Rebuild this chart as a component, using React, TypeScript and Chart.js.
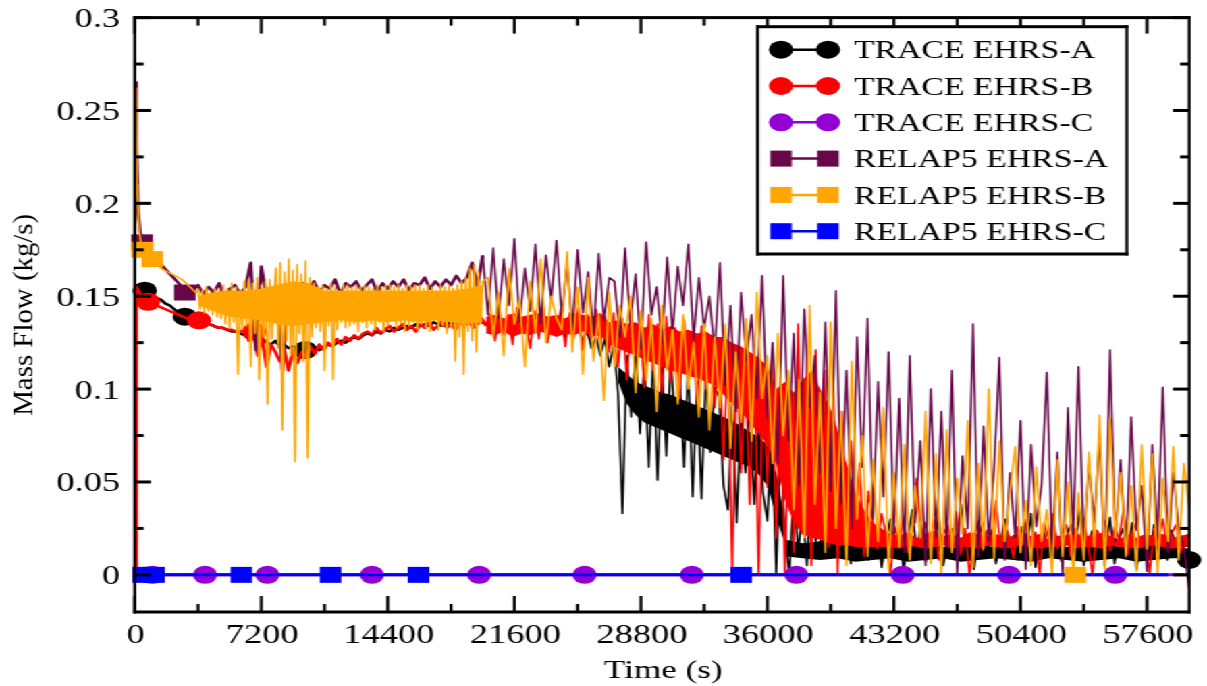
import { useEffect, useRef } from 'react';
import { Chart, registerables } from 'chart.js';

Chart.register(...registerables);

// ---------------------------------------------------------------------------
// Axis ticks
// ---------------------------------------------------------------------------
const timeTicks = [0, 7200, 14400, 21600, 28800, 36000, 43200, 50400, 57600];
const timeTickLabels = ['0', '7200', '14400', '21600', '28800', '36000', '43200', '50400', '57600'];
const timeMinorTicks = [3600, 10800, 18000, 25200, 32400, 39600, 46800, 54000];
const flowTicks = [0, 0.05, 0.1, 0.15, 0.2, 0.25, 0.3];
const flowTickLabels = ['0', '0.05', '0.1', '0.15', '0.2', '0.25', '0.3'];
const flowMinorTicks = [0.025, 0.075, 0.125, 0.175, 0.225, 0.275];

// ---------------------------------------------------------------------------
// Series (flows in g/s, times in s)
// ---------------------------------------------------------------------------
const seriesLabels = ['TRACE EHRS-A', 'TRACE EHRS-B', 'TRACE EHRS-C', 'RELAP5 EHRS-A', 'RELAP5 EHRS-B', 'RELAP5 EHRS-C'];
const seriesColors = ['#000000', '#ff0000', '#9400d3', '#670748', '#ffa500', '#0000ff'];
const seriesMarkers = ['circle', 'circle', 'circle', 'rect', 'rect', 'rect'];

// TRACE EHRS-A
const traceAHeadTime = [0, 300, 570, 800];
const traceAHeadGps = [152, 154, 153, 151];
const traceAStart = 1000;
const traceAStep = 250;
const traceAGps = [
  150, 149, 148, 146, 145, 143, 141, 140, 139,
  138, 137, 136, 136, 135, 134, 133, 133, 132, 131, 131, 130,
  129, 127, 128, 126, 127, 125, 124, 126, 123, 124, 122, 123, 121, 122, 120, 121,
  122, 121, 123, 124, 123, 125, 126, 125, 127, 128, 127, 129,
  130, 129, 131, 130, 132, 131, 133, 132, 133, 134, 133, 135, 134, 135, 134, 136, 135, 134, 136, 135, 136, 135, 137, 136, 135, 137, 136, 135,
  137, 133, 138, 132, 136, 131, 137, 133, 135, 130, 136, 132, 134, 129, 135, 131, 133, 128, 134, 130, 132, 126, 131, 122, 128, 118, 127, 112,
  124, 98, 33, 118, 85, 121, 76, 115, 58, 119, 51, 112, 64, 117, 81, 108, 58, 113, 42, 104, 41, 110, 66, 101,
  96, 48, 35, 92, 28, 88, 55, 94, 38, 85, 44, 29, 80, 0, 72, 22,
  0, 48, 12, 35, 5, 51, 18, 30, 10, 25, 16, 22,
  12, 28, 6, 22, 15, 33, 8, 19, 26, 4,
  18, 30, 10, 24, 2, 20, 35, 12, 27, 7,
  21, 14, 31, 5, 17, 25, 9, 38, 13, 22,
  3, 19, 28, 11, 24, 6, 16, 30, 14, 21,
  8, 26, 12, 33, 4, 18, 23, 10, 29, 15,
  7, 20, 27, 13, 36, 5, 17, 24, 9, 22,
  14, 31, 6, 19, 25, 11, 28, 3, 16, 21,
  10, 27, 13, 20, 8, 24, 15, 18, 12, 8,
];
// cores of the fast-oscillating stretches of TRACE EHRS-A
const traceACoreStart = 27500;
const traceACoreStep = 500;
const traceACoreUpperGps = [112, 108, 104, 102, 100, 98, 97, 95, 93, 91, 89, 87, 85, 83, 80, 77, 74, 70, 55, 30];
const traceACoreLowerGps = [104, 92, 86, 82, 80, 78, 76, 74, 72, 70, 68, 66, 64, 62, 60, 58, 54, 48, 32, 16];
const traceATailStart = 37000;
const traceATailStep = 1000;
const traceATailUpperGps = [19, 17, 18, 16, 17, 15, 17, 16, 18, 15, 17, 16, 15, 17, 16, 18, 15, 16, 17, 15, 16, 17, 15, 14];
const traceATailLowerGps = [10, 9, 8, 9, 7, 8, 9, 7, 8, 9, 7, 8, 9, 8, 7, 9, 8, 7, 8, 9, 7, 8, 9, 9];
const traceAMarkTime = [570, 2850, 9700, 39550, 60000];
const traceAMarkGps = [153, 139, 121, 16, 8];

// TRACE EHRS-B
const traceBHeadTime = [0, 70, 90, 400, 760];
const traceBHeadGps = [0, 2, 155, 150, 147];
const traceBStart = 1000;
const traceBStep = 250;
const traceBGps = [
  146, 145, 144, 143, 142, 141, 140, 139, 138,
  137, 137, 136, 135, 135, 134, 133, 133, 132, 132, 131, 131,
  132, 126, 130, 118, 128, 112, 124, 120, 115, 122, 110, 121, 114, 120, 117, 123,
  119, 124, 121, 125, 123, 127, 124, 128, 126, 129, 127, 130,
  131, 129, 133, 130, 132, 134, 131, 133, 135, 132, 134, 131, 135, 133, 136, 132, 134, 137, 133, 135, 132, 136, 134, 137, 133, 135, 138, 134,
  141, 126, 143, 129, 140, 124, 144, 130, 138, 122, 142, 127, 145, 125, 139, 131, 143, 123, 141, 128, 144, 121, 140, 126, 143, 124, 139, 120,
  141, 112, 138, 105, 142, 118, 136, 101, 140, 110, 135, 98, 139, 104, 133, 95, 137, 108, 131, 92, 134, 100, 128, 90,
  126, 62, 118, 0, 121, 55, 112, 38, 124, 0, 108, 47, 115, 20, 102, 0,
  96, 12, 135, 22, 118, 5, 121, 30, 110, 15, 104, 0,
  88, 18, 72, 25, 60, 10, 45, 28, 14, 33,
  22, 0, 26, 17, 31, 12, 24, 52, 19, 28,
  15, 30, 8, 22, 27, 16, 34, 11, 25, 0,
  20, 29, 13, 24, 18, 40, 15, 27, 21, 9,
  26, 17, 30, 12, 23, 0, 28, 19, 33, 14,
  22, 27, 10, 25, 18, 31, 16, 0, 24, 20,
  29, 13, 26, 19, 35, 11, 23, 28, 15, 21,
  0, 25, 18, 30, 14, 22, 27, 12, 19, 15,
];
// core of the fast-oscillating stretch of TRACE EHRS-B
const traceBCoreStart = 20000;
const traceBCoreStep = 500;
const traceBCoreUpperGps = [
  139, 140, 138, 141, 139, 140, 141, 139, 140, 138, 141, 140, 139, 141,
  136, 137, 135, 136, 133, 135, 132, 134, 131, 132, 130, 131, 128,
  128, 125, 123, 120, 117, 112,
  100, 104, 98,
  105, 110, 100, 92, 78, 60,
  45, 35, 28, 25,
  22, 21, 23, 20, 22, 24, 21, 22, 20, 23, 22, 21, 22, 20, 21, 23, 21, 22, 19, 21, 21, 23, 20, 22, 22, 21, 19, 22, 20, 22, 21, 22, 20, 21, 22,
];
const traceBCoreLowerGps = [
  130, 129, 131, 128, 130, 129, 131, 130, 128, 130, 129, 131, 128, 129,
  124, 122, 120, 118, 116, 114, 112, 110, 109, 107, 106, 104, 102,
  97, 92, 88, 82, 76, 70,
  60, 40, 28,
  22, 20, 19, 17, 16, 16,
  15, 15, 15, 15,
  15, 14, 16, 15, 14, 15, 16, 14, 15, 15, 14, 16, 15, 14, 15, 16, 15, 14, 15, 15, 16, 14, 15, 15, 14, 16, 15, 15, 14, 15, 16, 15, 14, 15, 15,
];
const traceBMarkTime = [760, 3660, 6800];
const traceBMarkGps = [147, 137, 131];

// TRACE EHRS-C (no flow)
const traceCTime = [0, 60000];
const traceCGps = [0, 0];
const traceCMarkTime = [1000, 4000, 7550, 13500, 19600, 25600, 31700, 37650, 43700, 49750, 55800];
const traceCMarkGps = [0, 0, 0, 0, 0, 0, 0, 0, 0, 0, 0];

// RELAP5 EHRS-A
const relapAHeadTime = [0, 50, 90, 130, 200, 300, 420, 800, 1000];
const relapAHeadGps = [180, 265, 230, 218, 195, 185, 179, 175, 172];
const relapAStart = 1200;
const relapAStep = 300;
const relapAGps = [
  170, 167, 164, 161, 158, 155, 154,
  153, 156, 151, 155, 152, 157, 150, 154, 156, 151, 155,
  168, 121, 166, 150, 154, 149, 110, 152, 155, 150,
  157, 153, 158, 152, 156, 154, 159, 151, 157, 155, 158, 153, 156, 159, 152, 157, 154, 158, 155, 159,
  153, 157, 156, 160, 154, 158, 155, 159, 156, 161, 157, 160,
  168, 155, 172,
  140, 176, 138, 170, 145, 181, 136, 165, 142, 178, 135, 172, 148, 180, 139, 168, 132, 175, 141, 163, 130, 173, 137, 160,
  158, 128, 176, 135, 162, 122, 179, 140, 155, 125, 171, 130, 166, 145, 178, 127, 160, 133, 150, 120,
  168, 102, 145, 88, 152, 115, 140, 95, 161, 84,
  125, 60, 161, 72, 130, 48, 143, 90, 118, 55, 136,
  45, 153, 38, 110, 25, 128, 58, 138, 30, 104, 42, 120, 22,
  95, 12, 118, 28, 72, 5, 100, 20, 88, 15, 110, 0, 64, 25, 135, 10, 80, 18, 58,
  117, 8, 55, 20, 83, 3, 70, 26, 48, 109, 12, 66, 0, 90, 22, 112, 15, 60, 28, 75, 5,
  121, 18, 62, 9, 85, 24, 48, 2, 70, 20, 101, 12, 55, 25, 15, -8,
];
const relapAMarkTime = [420, 2850];
const relapAMarkGps = [179, 152];

// RELAP5 EHRS-B
const relapBHeadTime = [0, 80, 110, 150, 220, 300, 420, 700, 1000, 1500, 2700, 3480];
const relapBHeadGps = [175, 262, 210, 205, 190, 182, 175, 172, 170, 165, 159, 152];
const relapBBandStart = 3600;
const relapBBandStep = 120;
const relapBBandGps = [
  154, 143, 153, 141, 155, 142, 152, 140, 154, 139, 153,
  138, 156, 135, 154, 133, 157, 136, 155, 108, 152, 132, 158,
  134, 159, 112, 157, 130, 160, 105, 156, 128, 158, 92, 159, 127, 150,
  165, 122, 168, 78, 163, 126, 170, 118, 164, 61, 167, 130, 162, 115, 169, 63, 160, 128,
  157, 133, 155, 131, 156, 110, 154, 134, 157, 105, 155, 132, 153, 136, 156, 133,
  156, 134, 155, 135, 156, 131, 155, 136, 156, 133, 155, 135, 154, 132, 156, 136, 155, 131, 156, 134, 156, 137, 155, 133, 156, 135, 154, 131, 156, 134,
  155, 136, 156, 132, 156, 135, 154, 133, 156, 131, 155, 137, 153, 132, 156, 134, 155, 130, 156, 133, 154,
  115, 156, 128, 158, 108, 160, 131, 165, 126, 167, 120, 163, 135, 158,
];
// core of the fast-oscillating stretch of RELAP5 EHRS-B
const relapBCoreStart = 3600;
const relapBCoreStep = 900;
const relapBCoreUpperGps = [150, 152, 153, 153, 154, 156, 158, 157, 153, 153, 153, 153, 153, 153, 153, 153, 153, 154, 156];
const relapBCoreLowerGps = [145, 142, 139, 138, 137, 135, 134, 135, 136, 137, 136, 137, 136, 137, 136, 137, 136, 135, 136];
const relapBLateStart = 20100;
const relapBLateStep = 300;
const relapBLateGps = [
  160, 128, 152, 118, 165, 135, 148, 112, 158, 130, 170, 125, 150, 138,
  132, 174, 120, 155, 108, 160, 115, 140, 94, 152, 112, 145,
  128, 150, 98, 142, 105, 138, 88, 145, 110, 132, 92, 140, 100, 125, 85, 135,
  78, 128, 90, 135, 68, 120, 82, 138, 72, 152, 95, 118, 60, 130, 75, 110,
  35, 105, 20, 145, 38, 98, 12, 136, 25, 88, 5, 115, 30,
  75, 10, 62, 18, 90, 3, 55, 15, 70, 8, 48, 20, 88, 6, 65, 0, 78, 12, 52, 22, 83, 4, 60, 14, 100, 9, 72, 18, 45,
  69, 12, 40, 5, 58, 18, 35, 0, 62, 10, 50, 0, 44, 8, 66, 15, 86, 3, 84, 20, 55,
  10, 48, 2, 70, 14, 65, 0, 52, 18, 69, 8, 60, 35,
];
const relapBMarkTime = [420, 1000, 53520];
const relapBMarkGps = [175, 170, 0];

// RELAP5 EHRS-C (no flow)
const relapCTime = [0, 58800];
const relapCGps = [0, 0];
const relapCMarkTime = [480, 1100, 6065, 11140, 16150, 34510];
const relapCMarkGps = [0, 0, 0, 0, 0, 0];

// ---------------------------------------------------------------------------
// Layout (canvas px; the canvas is widened horizontally by STRETCH)
// ---------------------------------------------------------------------------
const CANVAS_W = 894;
const CANVAS_H = 686;
const STRETCH = 1207 / CANVAS_W;
const PLOT = { left: 99.8, right: 880.8, top: 17.6, bottom: 612 };
const LEGEND = { left: 561.1, top: 26.7, right: 834.6, bottom: 254, row0: 49.7, rowGap: 36.3, m1: 578.5, m2: 613.3, textX: 632.6 };
const SERIF = '"Liberation Serif", "Times New Roman", serif';

type Pt = { x: number; y: number };
const listed = (times: number[], gps: number[]): Pt[] => times.map((t, i) => ({ x: t, y: gps[i] / 1000 }));
const sampled = (start: number, step: number, gps: number[]): Pt[] =>
  gps.map((g, i) => ({ x: start + i * step, y: g / 1000 }));

function lineSet(idx: number, data: Pt[], width: number) {
  return {
    label: seriesLabels[idx],
    data,
    borderColor: seriesColors[idx],
    backgroundColor: seriesColors[idx],
    borderWidth: width,
    borderJoinStyle: 'round' as const,
    pointRadius: 0,
    fill: false,
    tension: 0,
  };
}

// two datasets: the upper edge, then the lower edge filled up to it
function coreSets(idx: number, start: number, step: number, upper: number[], lower: number[]) {
  return [
    {
      label: seriesLabels[idx] + ' upper',
      data: sampled(start, step, upper),
      borderWidth: 0,
      borderColor: 'rgba(0,0,0,0)',
      pointRadius: 0,
      fill: false,
      tension: 0,
    },
    {
      label: seriesLabels[idx] + ' lower',
      data: sampled(start, step, lower),
      borderWidth: 0,
      borderColor: 'rgba(0,0,0,0)',
      backgroundColor: seriesColors[idx],
      pointRadius: 0,
      fill: '-1',
      tension: 0,
    },
  ];
}

function markerSet(idx: number, data: Pt[]) {
  const circle = seriesMarkers[idx] === 'circle';
  return {
    label: seriesLabels[idx] + ' markers',
    data,
    showLine: false,
    pointStyle: circle ? 'circle' : 'rect',
    pointRadius: circle ? 9 : 11.3,
    pointBackgroundColor: seriesColors[idx],
    pointBorderColor: seriesColors[idx],
    pointBorderWidth: 0,
    backgroundColor: seriesColors[idx],
    borderColor: seriesColors[idx],
    clip: false as const,
  };
}

const decorPlugin = {
  id: 'decor',
  afterDatasetsDraw(chart: any) {
    const ctx: CanvasRenderingContext2D = chart.ctx;
    const a = chart.chartArea;
    const xs = chart.scales.x;
    const ys = chart.scales.y;
    ctx.save();
    ctx.fillStyle = '#000';
    const hTick = (v: number, len: number) => {
      const py = ys.getPixelForValue(v);
      ctx.fillRect(a.left, py - 1.5, len, 3);
      ctx.fillRect(a.right - len, py - 1.5, len, 3);
    };
    flowTicks.forEach((v) => hTick(v, 12));
    flowMinorTicks.forEach((v) => hTick(v, 6.7));
    const vTick = (t: number, len: number) => {
      const px = xs.getPixelForValue(t);
      ctx.fillRect(px - 1.1, a.bottom - len, 2.2, len);
      ctx.fillRect(px - 1.1, a.top, 2.2, len);
    };
    timeTicks.forEach((t) => vTick(t, 16));
    timeMinorTicks.forEach((t) => vTick(t, 8));
    // frame
    const w = a.right - a.left;
    const h = a.bottom - a.top;
    ctx.fillRect(a.left - 1.1, a.top - 1.5, w + 2.2, 3);
    ctx.fillRect(a.left - 1.1, a.bottom - 1.5, w + 2.2, 3);
    ctx.fillRect(a.left - 1.1, a.top - 1.5, 2.2, h + 3);
    ctx.fillRect(a.right - 1.1, a.top - 1.5, 2.2, h + 3);
    ctx.restore();
  },
  afterDraw(chart: any) {
    const ctx: CanvasRenderingContext2D = chart.ctx;
    const a = chart.chartArea;
    const xs = chart.scales.x;
    const ys = chart.scales.y;
    ctx.save();
    ctx.fillStyle = '#000';
    ctx.textBaseline = 'alphabetic';

    // tick labels
    ctx.font = `27px ${SERIF}`;
    ctx.textAlign = 'right';
    flowTicks.forEach((v, i) => ctx.fillText(flowTickLabels[i], 88.9, ys.getPixelForValue(v) + 9.5));
    ctx.textAlign = 'center';
    timeTicks.forEach((t, i) => ctx.fillText(timeTickLabels[i], xs.getPixelForValue(t) + 0.7, 643));

    // x title
    ctx.font = `26px ${SERIF}`;
    ctx.fillText('Time (s)', (a.left + a.right) / 2 + 1, 678.3);

    // y title (rotated, narrow)
    ctx.save();
    ctx.translate(18.5, (a.top + a.bottom) / 2);
    ctx.rotate(-Math.PI / 2);
    ctx.font = `29px ${SERIF}`;
    const yTitle = 'Mass Flow (kg/s)';
    const tw = ctx.measureText(yTitle).width;
    ctx.scale(202 / tw, 0.69);
    ctx.textAlign = 'center';
    ctx.fillText(yTitle, 0, 7.5);
    ctx.restore();

    // legend
    const L = LEGEND;
    ctx.fillStyle = '#fff';
    ctx.fillRect(L.left, L.top, L.right - L.left, L.bottom - L.top);
    ctx.fillStyle = '#000';
    ctx.fillRect(L.left - 1.1, L.top - 1.5, L.right - L.left + 2.2, 3);
    ctx.fillRect(L.left - 1.1, L.bottom - 1.5, L.right - L.left + 2.2, 3);
    ctx.fillRect(L.left - 1.1, L.top - 1.5, 2.2, L.bottom - L.top + 3);
    ctx.fillRect(L.right - 1.1, L.top - 1.5, 2.2, L.bottom - L.top + 3);
    ctx.font = `25px ${SERIF}`;
    ctx.textAlign = 'left';
    seriesLabels.forEach((label, i) => {
      const y = L.row0 + i * L.rowGap;
      const c = seriesColors[i];
      ctx.strokeStyle = c;
      ctx.lineWidth = 2.5;
      ctx.beginPath();
      ctx.moveTo(L.m1, y);
      ctx.lineTo(L.m2, y);
      ctx.stroke();
      ctx.fillStyle = c;
      [L.m1, L.m2].forEach((mx) => {
        if (seriesMarkers[i] === 'circle') {
          ctx.beginPath();
          ctx.arc(mx, y, 9, 0, Math.PI * 2);
          ctx.fill();
        } else {
          ctx.fillRect(mx - 8, y - 8, 16, 16);
        }
      });
      ctx.fillStyle = '#000';
      ctx.fillText(label, L.textX, y + 8.6);
    });
    ctx.restore();
  },
};

export default function App() {
  const canvasRef = useRef<HTMLCanvasElement>(null);

  useEffect(() => {
    const canvas = canvasRef.current;
    if (!canvas) return;

    const traceA = [...listed(traceAHeadTime, traceAHeadGps), ...sampled(traceAStart, traceAStep, traceAGps)];
    const traceB = [...listed(traceBHeadTime, traceBHeadGps), ...sampled(traceBStart, traceBStep, traceBGps)];
    const traceC = listed(traceCTime, traceCGps);
    const relapA = [...listed(relapAHeadTime, relapAHeadGps), ...sampled(relapAStart, relapAStep, relapAGps)];
    const relapB = [
      ...listed(relapBHeadTime, relapBHeadGps),
      ...sampled(relapBBandStart, relapBBandStep, relapBBandGps),
      ...sampled(relapBLateStart, relapBLateStep, relapBLateGps),
    ];
    const relapC = listed(relapCTime, relapCGps);

    const early = (p: Pt[], end: number) => p.filter((q) => q.x <= end);
    const late = (p: Pt[], from: number) => p.filter((q) => q.x >= from);

    // bottom-to-top drawing sequence
    const stack: any[] = [
      lineSet(0, early(traceA, 20000), 2.5),
      ...coreSets(0, traceACoreStart, traceACoreStep, traceACoreUpperGps, traceACoreLowerGps),
      ...coreSets(0, traceATailStart, traceATailStep, traceATailUpperGps, traceATailLowerGps),
      lineSet(0, late(traceA, 20000), 1.5),
      markerSet(0, listed(traceAMarkTime, traceAMarkGps)),
      lineSet(1, early(traceB, 20000), 2.5),
      ...coreSets(1, traceBCoreStart, traceBCoreStep, traceBCoreUpperGps, traceBCoreLowerGps),
      lineSet(1, late(traceB, 20000), 1.5),
      markerSet(1, listed(traceBMarkTime, traceBMarkGps)),
      lineSet(2, traceC, 3),
      markerSet(2, listed(traceCMarkTime, traceCMarkGps)),
      lineSet(3, early(relapA, 19800), 2.5),
      lineSet(3, late(relapA, 19800), 1.5),
      markerSet(3, listed(relapAMarkTime, relapAMarkGps)),
      ...coreSets(4, relapBCoreStart, relapBCoreStep, relapBCoreUpperGps, relapBCoreLowerGps),
      lineSet(4, relapB, 1.5),
      lineSet(5, relapC, 3),
      markerSet(5, listed(relapCMarkTime, relapCMarkGps)),
      markerSet(4, listed(relapBMarkTime, relapBMarkGps)),
    ];
    stack.forEach((d, i) => (d.order = -i));

    const chart = new Chart(canvas, {
      type: 'line',
      data: { datasets: stack },
      options: {
        animation: false,
        responsive: false,
        devicePixelRatio: 1,
        events: [],
        layout: {
          padding: {
            left: PLOT.left,
            right: CANVAS_W - PLOT.right,
            top: PLOT.top,
            bottom: CANVAS_H - PLOT.bottom,
          },
        },
        scales: {
          x: { type: 'linear', min: 0, max: 60000, display: false },
          y: { type: 'linear', min: -0.02, max: 0.3, display: false },
        },
        plugins: {
          legend: { display: false },
          tooltip: { enabled: false },
          title: { display: false },
        },
      },
      plugins: [decorPlugin],
    });

    return () => chart.destroy();
  }, []);

  return (
    <div
      style={{
        position: 'fixed',
        left: 0,
        top: 0,
        width: CANVAS_W,
        height: CANVAS_H,
        transform: `scaleX(${STRETCH})`,
        transformOrigin: '0 0',
        background: '#fff',
      }}
    >
      <canvas
        ref={canvasRef}
        width={CANVAS_W}
        height={CANVAS_H}
        style={{ display: 'block', width: CANVAS_W, height: CANVAS_H }}
      />
    </div>
  );
}
